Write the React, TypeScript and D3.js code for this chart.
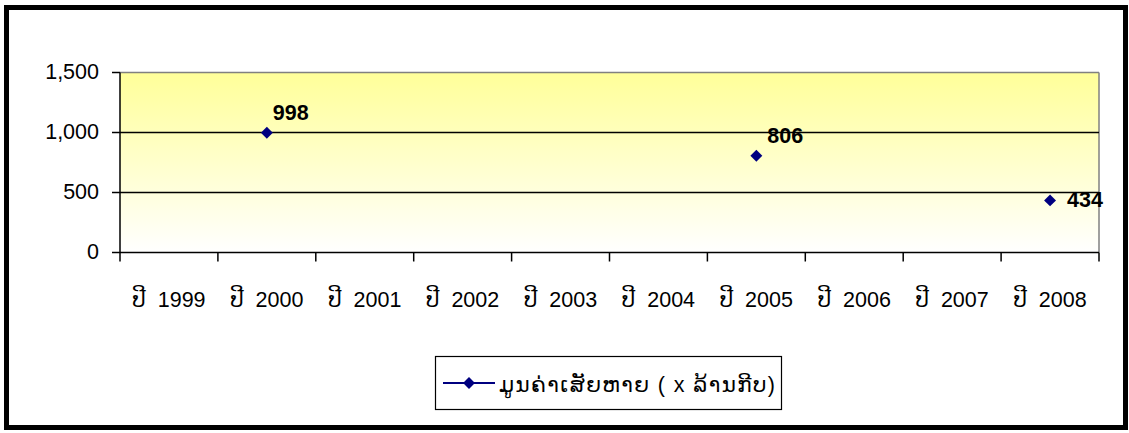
import React from "react";
import * as d3 from "d3";

const categories = ["ປີ 1999", "ປີ 2000", "ປີ 2001", "ປີ 2002", "ປີ 2003", "ປີ 2004", "ປີ 2005", "ປີ 2006", "ປີ 2007", "ປີ 2008"];
const pointCategories = ["ປີ 2000", "ປີ 2005", "ປີ 2008"];
const pointValues = [998, 806, 434];
const yTicks = [0, 500, 1000, 1500];
const seriesName = "ມູນຄ່າເສັຍຫາຍ ( x ລ້ານກີບ)";

const W = 1129, H = 433;
const FONT = "'Liberation Sans', Arial, 'DejaVu Sans', sans-serif";

export default function App() {
  const left = 120, right = 1099, top = 72.5, bottom = 252.5;
  const x = d3.scaleBand<string>().domain(categories).range([left, right]);
  const y = d3.scaleLinear().domain([0, 1500]).range([bottom, top]);
  const fmt = d3.format(",");
  const diamond = d3.symbol().type(d3.symbolDiamond2 ?? d3.symbolDiamond).size(90)();
  const labelPos = [
    { dx: 6, dy: -13 },
    { dx: 11, dy: -13 },
    { dx: 17, dy: 7 },
  ];
  const tickXs = [...categories.map((c) => x(c)!), right];
  return (
    <svg width={W} height={H} style={{ position: "absolute", left: 0, top: 0, display: "block" }} fontFamily={FONT}>
      <defs>
        <linearGradient id="bg" x1="0" y1="0" x2="0" y2="1">
          <stop offset="0%" stopColor="#FFFF99" />
          <stop offset="100%" stopColor="#FFFFFF" />
        </linearGradient>
      </defs>
      <rect x={0} y={0} width={W} height={H} fill="#fff" />
      <rect x={6.5} y={7.5} width={1119} height={420} fill="#fff" stroke="#000" strokeWidth={5} />
      <rect x={left} y={top} width={right - left} height={bottom - top} fill="url(#bg)" />
      <line x1={left} x2={right} y1={top} y2={top} stroke="#808080" strokeWidth={1.5} />
      <line x1={right} x2={right} y1={top} y2={bottom} stroke="#808080" strokeWidth={1.5} />
      {yTicks.filter((t) => t > 0 && t < 1500).map((t) => (
        <line key={t} x1={left} x2={right} y1={y(t)} y2={y(t)} stroke="#000" strokeWidth={1.5} />
      ))}
      <line x1={left} x2={left} y1={top} y2={bottom} stroke="#000" strokeWidth={1.5} />
      {yTicks.map((t) => (
        <g key={t}>
          <line x1={left - 8} x2={left} y1={y(t)} y2={y(t)} stroke="#000" strokeWidth={1.5} />
          <text x={99} y={y(t) + 6.5} textAnchor="end" fontSize={21.5} fill="#000">{fmt(t)}</text>
        </g>
      ))}
      <line x1={left} x2={right} y1={bottom} y2={bottom} stroke="#000" strokeWidth={1.5} />
      {tickXs.map((tx, i) => (
        <line key={i} x1={tx} x2={tx} y1={bottom} y2={bottom + 9} stroke="#000" strokeWidth={1.5} />
      ))}
      {categories.map((c) => (
        <text key={c} x={x(c)! + x.bandwidth() / 2} y={306.5} textAnchor="middle" fontSize={21.5} fill="#000" style={{ whiteSpace: "pre" }}>{c.replace(" ", "  ")}</text>
      ))}
      {pointCategories.map((c, i) => {
        const px = x(c)! + x.bandwidth() / 2;
        const py = y(pointValues[i]);
        const lp = labelPos[i];
        return (
          <g key={c}>
            <path d={diamond!} transform={`translate(${px},${py})`} fill="#000080" />
            <text x={px + lp.dx} y={py + lp.dy} fontSize={21.5} fontWeight="bold" fill="#000">{pointValues[i]}</text>
          </g>
        );
      })}
      <rect x={435.5} y={356.5} width={346} height={53} fill="#fff" stroke="#000" strokeWidth={1.2} />
      <line x1={443} x2={495} y1={383} y2={383} stroke="#000080" strokeWidth={2} />
      <path d={diamond!} transform="translate(469,383)" fill="#000080" />
      <text x={499} y={392} fontSize={21.5} fill="#000" textLength={276} lengthAdjust="spacing">{seriesName}</text>
    </svg>
  );
}
